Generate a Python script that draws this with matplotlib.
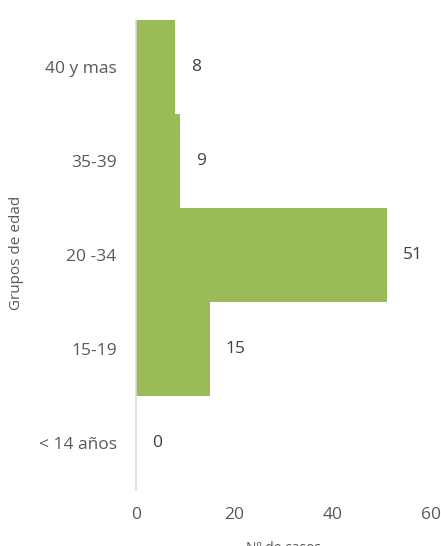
import matplotlib.pyplot as plt

categorias = ["< 14 años", "15-19", "20 -34", "35-39", "40 y mas"]
valores = [0, 15, 51, 9, 8]
x_ticks = [0, 20, 40, 60]

VERDE = "#9BBB59"
GRIS_TEXTO = "#595959"

plt.rcParams["font.family"] = ["Open Sans", "DejaVu Sans"]

fig = plt.figure(figsize=(4.41, 5.46), dpi=100)
ax = fig.add_axes([136 / 441, 1 - 490 / 546, (431 - 136) / 441, (490 - 20) / 546])

pos = list(range(len(categorias)))
ax.barh(pos, valores, height=1.0, color=VERDE, linewidth=0)

# etiquetas de datos
for p, v in zip(pos, valores):
    ax.text(v + 3.2, p, str(v), va="center", ha="left", fontsize=12.5, color="#404040")

ax.set_xlim(0, 60)
ax.set_ylim(-0.5, 4.5)
ax.set_yticks(pos)
ax.set_yticklabels(categorias)
ax.set_xticks(x_ticks)
ax.tick_params(axis="both", length=0, labelsize=12.5, colors=GRIS_TEXTO)
ax.tick_params(axis="y", pad=14)
ax.tick_params(axis="x", pad=12)

for s in ["top", "right", "bottom"]:
    ax.spines[s].set_visible(False)
ax.spines["left"].set_color("#D9D9D9")
ax.spines["left"].set_linewidth(1.2)

fig.text(17 / 441, 1 - 253 / 546, "Grupos de edad", rotation=90, ha="center", va="center",
         fontsize=11, color=GRIS_TEXTO)
fig.text(283 / 441, -10 / 546, "Nº de casos", ha="center", va="bottom",
         fontsize=10, color=GRIS_TEXTO)

fig.savefig("out.png", dpi=100)
